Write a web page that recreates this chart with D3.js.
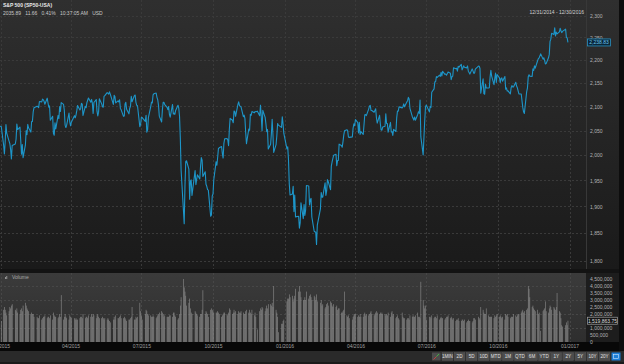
<!DOCTYPE html>
<html><head><meta charset="utf-8">
<script src="https://cdn.jsdelivr.net/npm/d3@7"></script>
<style>
html,body{margin:0;padding:0;background:#151515;overflow:hidden}
svg{display:block;font-family:"Liberation Sans",Arial,sans-serif}
</style>
</head><body>
<svg id="c" width="624" height="364"></svg>
<script>
// ---------------- DATA ----------------
const titleText = "S&P 500 (SP50-USA)";
const quoteText = "2035.89   11.66   0.41%   10:37:05 AM   USD";
const rangeText = "12/31/2014 - 12/30/2016";
const holidays = ["2015-01-01","2015-01-19","2015-02-16","2015-04-03","2015-05-25","2015-07-03","2015-09-07","2015-11-26","2015-12-25",
  "2016-01-01","2016-01-18","2016-02-15","2016-03-25","2016-05-30","2016-07-04","2016-09-05","2016-11-24","2016-12-26"];
const firstDay = "2014-12-31";
const firstClose = 2058.90;
const firstVolumeM = 1.3;
const closes2015 = [
 2058.20,2020.58,2002.61,2025.90,2062.14,2044.81,2028.26,2023.03,2011.27,1992.67,2019.42,2022.55,2032.12,2063.15,2051.82,2057.09,2029.55,2002.16,2021.25,1994.99,
 2020.85,2050.03,2041.51,2062.52,2055.47,2046.74,2068.59,2068.53,2088.48,2096.99,2100.34,2099.68,2097.45,2110.30,2109.66,2115.48,2113.86,2110.74,2104.50,
 2117.39,2107.78,2098.53,2101.04,2071.26,2079.43,2044.16,2040.24,2065.95,2053.40,2081.19,2074.28,2099.50,2089.27,2108.10,2104.42,2091.50,2061.05,2056.15,2061.02,2086.24,2067.89,
 2059.69,2066.96,2080.62,2076.33,2081.90,2091.18,2102.06,2092.43,2095.84,2106.63,2104.99,2081.18,2100.40,2097.29,2107.96,2112.93,2117.69,2108.92,2114.76,2106.85,2085.51,
 2108.29,2114.49,2089.46,2080.15,2088.00,2116.10,2105.33,2099.12,2098.48,2121.10,2122.73,2129.20,2127.83,2125.85,2130.82,2126.06,2104.20,2123.48,2120.79,2107.39,
 2111.73,2109.60,2114.07,2095.84,2092.83,2079.28,2080.15,2105.20,2108.86,2094.11,2084.43,2096.29,2100.44,2121.24,2109.99,2122.85,2124.20,2108.58,2102.31,2101.49,2057.64,2063.11,
 2077.42,2076.78,2068.76,2081.34,2046.68,2051.31,2076.62,2099.60,2108.95,2107.40,2124.29,2126.64,2128.28,2119.21,2114.15,2102.15,2079.65,2067.64,2093.25,2108.57,2108.63,2103.84,
 2098.04,2093.32,2099.84,2083.56,2077.57,2104.18,2084.07,2086.05,2083.39,2091.54,2102.44,2096.92,2079.61,2035.73,1970.89,1893.21,1867.61,1940.51,1987.66,1988.87,1972.18,
 1913.85,1948.86,1951.13,1921.22,1969.41,1942.04,1952.29,1961.05,1953.03,1978.09,1995.31,1990.20,1958.03,1966.97,1942.74,1938.76,1932.24,1931.34,1881.77,1884.09,1920.03,
 1923.82,1951.36,1987.05,1979.92,1995.83,2013.43,2014.89,2017.46,2003.69,1994.24,2023.86,2033.11,2033.66,2030.77,2018.94,2052.51,2075.15,2071.18,2065.89,2090.35,2089.41,2079.36,
 2104.05,2109.79,2102.31,2099.93,2099.20,2078.58,2081.72,2075.00,2045.97,2023.04,2053.19,2050.44,2083.58,2081.24,2089.17,2086.59,2089.14,2088.87,2090.11,2080.41,
 2102.63,2079.51,2049.62,2091.69,2077.07,2063.59,2047.62,2052.23,2012.37,2021.94,2043.41,2073.07,2041.89,2005.55,2021.15,2038.97,2064.29,2060.99,2056.50,2078.36,2063.36,2043.94
];
const closes2016 = [
 2012.66,2016.71,1990.26,1943.09,1922.03,1923.67,1938.68,1890.28,1921.84,1880.33,1881.33,1859.33,1868.99,1906.90,1877.08,1903.63,1882.95,1893.36,1940.24,
 1939.38,1903.03,1912.53,1915.45,1880.05,1853.44,1852.21,1851.86,1829.08,1864.78,1895.58,1926.82,1917.83,1917.78,1945.50,1921.27,1929.80,1951.70,1948.05,1932.23,
 1978.35,1986.45,1993.40,1999.99,2001.76,1979.26,1989.26,1989.57,2022.19,2019.64,2015.93,2027.22,2040.59,2049.58,2051.60,2049.80,2036.71,2035.94,2037.05,2055.01,2063.95,2059.74,
 2072.78,2066.13,2045.17,2066.66,2041.91,2047.60,2041.99,2061.72,2082.42,2082.78,2080.73,2094.34,2100.80,2102.40,2091.48,2091.58,2087.79,2091.70,2095.15,2075.81,2065.30,
 2081.43,2063.37,2051.12,2050.63,2057.14,2058.69,2084.39,2064.46,2064.11,2046.61,2066.66,2047.21,2047.63,2040.04,2052.32,2048.04,2076.06,2090.54,2090.10,2099.06,2096.95,
 2099.33,2105.26,2099.13,2109.41,2112.13,2119.12,2115.48,2096.07,2079.06,2075.32,2071.50,2077.99,2071.22,2083.25,2088.90,2085.45,2113.32,2037.41,2000.54,2036.09,2070.77,2098.86,
 2102.95,2088.55,2099.73,2097.90,2129.90,2137.16,2152.14,2152.43,2163.75,2161.74,2166.89,2163.78,2173.02,2165.17,2175.03,2168.48,2169.18,2166.58,2170.06,2173.60,
 2170.84,2157.03,2163.79,2164.25,2182.87,2180.89,2181.74,2175.49,2185.79,2184.05,2190.15,2178.15,2182.22,2187.02,2183.87,2182.64,2186.90,2175.44,2172.47,2169.04,2180.38,2176.12,2170.95,
 2170.86,2179.98,2186.48,2186.16,2181.30,2127.81,2159.04,2127.02,2125.77,2147.26,2139.16,2139.12,2139.76,2163.12,2177.18,2164.69,2146.10,2159.93,2171.37,2151.13,2168.27,
 2161.20,2150.49,2159.73,2160.77,2153.74,2163.66,2136.73,2139.18,2132.55,2132.98,2126.50,2139.60,2144.29,2141.34,2141.16,2151.33,2143.16,2139.43,2133.04,2126.41,2126.15,
 2111.72,2097.94,2088.66,2085.18,2131.52,2139.56,2163.26,2167.48,2164.45,2164.20,2180.39,2176.94,2187.12,2181.90,2198.18,2202.94,2204.72,2213.35,2201.72,2204.66,2198.81,
 2191.08,2191.95,2204.71,2212.23,2241.35,2246.19,2259.53,2256.96,2271.72,2253.28,2262.03,2258.07,2262.53,2270.76,2265.18,2260.96,2263.79,2268.88,2249.92,2249.26,2238.83
];
// volume in millions
const volumes2015M = [
 1.5,2.3,2.5,2.3,2.1,1.9,2.2,2.5,2.4,2.6,2.7,2.3,2.2,2.4,2.1,2.0,2.3,2.4,2.2,2.6,
 2.8,2.6,2.4,2.3,2.2,2.0,2.1,2.0,2.0,1.8,1.8,1.7,1.7,1.9,1.6,1.7,1.8,1.8,1.9,
 1.7,1.8,1.8,1.7,1.9,1.6,2.1,1.9,1.8,1.8,1.7,1.8,2.0,1.8,3.35,1.6,1.8,2.0,1.8,1.7,1.6,1.9,
 1.8,1.7,1.7,1.6,1.7,1.6,1.6,1.7,1.8,1.8,1.7,2.0,1.7,1.8,1.8,1.7,1.9,1.8,2.0,1.8,2.0,
 1.9,1.7,1.9,2.0,1.8,1.7,1.7,1.8,1.7,1.6,1.7,1.6,1.7,1.6,1.5,1.4,1.6,1.8,1.6,1.9,
 1.7,1.7,1.8,1.9,1.7,1.7,1.8,1.7,1.6,1.5,1.6,1.6,1.7,1.8,2.5,1.6,1.6,1.8,1.7,1.8,2.8,2.2,
 1.9,1.6,2.0,2.3,2.2,2.0,1.9,1.9,1.8,1.8,1.9,1.8,1.7,1.8,1.9,2.0,2.1,2.2,2.1,2.0,1.8,1.9,
 1.8,1.8,1.8,1.9,1.9,1.8,2.1,2.1,1.9,1.8,1.6,1.7,2.0,2.6,3.2,4.5,3.9,3.6,3.3,2.6,2.8,
 3.1,2.4,2.1,2.0,2.2,2.1,2.0,1.9,1.8,2.0,2.0,2.3,3.7,2.0,2.2,2.1,2.0,1.8,2.3,2.4,2.3,
 2.2,2.1,2.1,2.1,2.2,2.1,2.0,1.8,1.9,2.0,2.1,2.1,2.0,1.9,2.1,2.4,2.3,2.0,2.1,2.3,2.1,2.2,
 2.0,2.2,2.1,2.1,2.2,2.1,2.0,2.0,2.2,2.3,2.1,2.3,2.1,2.0,2.3,1.9,2.1,1.8,0.9,2.2,
 2.4,2.3,2.5,2.4,2.2,2.4,2.6,2.4,2.7,2.7,2.6,2.8,2.5,4.0,2.3,2.1,1.8,0.7,1.3,1.3,1.5,1.6
];
const volumes2016M = [
 2.9,3.1,3.1,3.4,3.2,3.3,2.9,3.1,3.3,3.8,3.6,4.0,3.6,3.2,3.0,3.0,3.2,3.0,3.6,
 3.1,3.3,3.4,3.2,3.0,3.3,3.2,3.0,3.4,2.9,2.8,3.0,2.6,2.7,2.4,2.5,2.7,2.8,2.6,2.9,
 2.8,2.6,2.5,2.7,2.5,2.6,2.3,2.4,2.4,2.1,2.1,2.2,2.3,3.6,1.9,1.8,1.9,1.7,1.6,1.8,1.9,2.0,
 2.0,1.8,1.9,1.8,2.0,1.8,1.8,2.0,2.1,1.9,2.0,1.9,2.0,2.1,2.2,2.0,1.9,2.0,2.1,2.2,2.1,
 2.0,2.1,2.0,2.1,2.0,2.0,1.9,2.0,1.9,2.1,1.8,2.1,2.2,1.9,2.0,1.7,1.8,1.9,1.7,1.6,2.1,
 1.8,1.7,1.7,1.6,1.7,1.7,1.6,1.9,1.8,1.9,1.8,1.8,1.9,2.1,1.8,1.8,1.7,4.3,3.0,2.6,2.4,2.6,
 1.6,1.8,1.8,1.7,1.9,1.7,1.8,1.8,1.7,1.9,1.6,1.7,1.8,1.7,1.7,1.6,1.7,1.8,1.8,1.9,
 1.7,1.8,1.7,1.6,1.7,1.5,1.6,1.6,1.7,1.5,1.5,1.6,1.6,1.5,1.6,1.4,1.5,1.6,1.5,1.5,1.4,1.5,1.7,
 1.7,1.6,1.8,1.7,1.6,2.5,2.3,2.1,2.0,2.0,2.4,1.9,1.8,1.8,1.8,1.8,1.7,1.9,1.8,1.9,2.0,
 1.8,1.9,1.8,1.7,1.8,1.6,2.0,1.9,2.0,1.8,1.7,1.8,1.8,1.8,2.0,1.9,1.8,1.9,2.0,2.0,2.1,
 2.2,2.3,2.1,2.2,2.3,2.4,4.0,3.8,3.2,2.5,2.6,2.4,2.3,2.2,2.3,2.0,2.1,0.8,2.2,2.3,2.4,
 2.9,2.2,2.1,2.4,2.6,2.5,2.3,2.5,2.4,2.3,2.5,3.5,2.2,2.1,1.7,1.2,1.1,1.2,1.4,1.2,1.51986375
];
const priceTicks = [1800,1850,1900,1950,2000,2050,2100,2150,2200,2250,2300];
// 1,500,000 sits behind the last-value tag in the reference
const volumeTicks = [0,500000,1000000,2000000,2500000,3000000,3500000,4000000,4500000];
const quarterTicks = ["2015-01-01","2015-04-01","2015-07-01","2015-10-01","2016-01-01","2016-04-01","2016-07-01","2016-10-01","2017-01-01"];
const rangeButtons = ["1MIN","2D","5D","10D","MTD","1M","QTD","6M","YTD","1Y","2Y","5Y","10Y","20Y"];

// ---------------- BUILD ----------------
const parse = d3.timeParse("%Y-%m-%d");
const fmtDay = d3.timeFormat("%Y-%m-%d");
const holidaySet = new Set(holidays);
const tradingDays = [parse(firstDay)].concat(
  d3.timeDay.range(parse("2015-01-01"), parse("2016-12-31"))
    .filter(d => d.getDay() !== 0 && d.getDay() !== 6 && !holidaySet.has(fmtDay(d))));
const closes = [firstClose, ...closes2015, ...closes2016];
const vols = [firstVolumeM, ...volumes2015M, ...volumes2016M];
const n = Math.min(tradingDays.length, closes.length, vols.length);
const data = d3.range(n).map(i => ({date: tradingDays[i], close: closes[i], volume: vols[i] * 1e6}));

const svg = d3.select("#c");
const PW = 586;
const mainTop = 0, mainBot = 269;
const volTop = 273, volBot = 342;

const defs = svg.append("defs");
const g1 = defs.append("linearGradient").attr("id","gMain").attr("x1",0).attr("y1",0).attr("x2",0).attr("y2",1);
g1.append("stop").attr("offset","0%").attr("stop-color","#2f2f2f");
g1.append("stop").attr("offset","100%").attr("stop-color","#1a1a1a");
const g2 = defs.append("linearGradient").attr("id","gVol").attr("x1",0).attr("y1",0).attr("x2",0).attr("y2",1);
g2.append("stop").attr("offset","0%").attr("stop-color","#3b3b3b");
g2.append("stop").attr("offset","100%").attr("stop-color","#2e2e2e");
defs.append("clipPath").attr("id","clipMain").append("rect").attr("x",0).attr("y",mainTop).attr("width",PW).attr("height",mainBot-mainTop);
defs.append("clipPath").attr("id","clipVol").append("rect").attr("x",0).attr("y",volTop).attr("width",PW).attr("height",volBot-volTop);

svg.append("rect").attr("width",624).attr("height",364).attr("fill","#131313");
svg.append("rect").attr("x",0).attr("y",mainTop).attr("width",619).attr("height",mainBot-mainTop).attr("fill","url(#gMain)");
svg.append("rect").attr("x",0).attr("y",volTop).attr("width",PW).attr("height",volBot-volTop).attr("fill","url(#gVol)");
svg.append("rect").attr("x",PW).attr("y",volTop).attr("width",619-PW).attr("height",volBot-volTop).attr("fill","#1d1d1d");
svg.append("rect").attr("x",0).attr("y",volBot).attr("width",619).attr("height",9).attr("fill","#080808");
svg.append("rect").attr("x",0).attr("y",351).attr("width",624).attr("height",13).attr("fill","#2a2a2a");
svg.append("rect").attr("x",0).attr("y",362).attr("width",624).attr("height",2).attr("fill","#1a1a1a");
svg.append("rect").attr("x",619).attr("y",0).attr("width",5).attr("height",351).attr("fill","#0d0d0d");
svg.append("line").attr("x1",PW+0.5).attr("x2",PW+0.5).attr("y1",0).attr("y2",mainBot).attr("stroke","#383838");

const x = d3.scaleTime().domain([parse("2015-01-01"), parse("2017-01-01")]).range([0.5, 569.5]);
const y = d3.scaleLog().domain([1800, 2300]).range([260.5, 15.5]);
const yv = d3.scaleLinear().domain([0, 4500000]).range([volBot, 279]);
const qDates = quarterTicks.map(parse);

const grid = svg.append("g").attr("stroke","#3a3a3a").attr("stroke-width",1).attr("stroke-dasharray","2,2");
grid.selectAll(".hg").data(priceTicks).join("line")
  .attr("x1",0).attr("x2",PW).attr("y1",d=>Math.round(y(d))+0.5).attr("y2",d=>Math.round(y(d))+0.5);
grid.selectAll(".vg").data(qDates).join("line")
  .attr("x1",d=>Math.round(x(d))+0.5).attr("x2",d=>Math.round(x(d))+0.5).attr("y1",mainTop).attr("y2",mainBot);
const gridV = svg.append("g").attr("stroke","#474747").attr("stroke-width",1).attr("stroke-dasharray","2,2");
gridV.selectAll("line.h").data(volumeTicks.filter(v=>v>0 && v%1000000===0)).join("line").attr("class","h")
  .attr("x1",0).attr("x2",PW).attr("y1",d=>Math.round(yv(d))+0.5).attr("y2",d=>Math.round(yv(d))+0.5);
gridV.selectAll("line.v").data(qDates).join("line").attr("class","v")
  .attr("x1",d=>Math.round(x(d))+0.5).attr("x2",d=>Math.round(x(d))+0.5).attr("y1",volTop).attr("y2",volBot);

const line = d3.line().x(d=>x(d.date)).y(d=>y(d.close));
svg.append("path").datum(data).attr("clip-path","url(#clipMain)")
  .attr("d",line).attr("fill","none").attr("stroke","#1d95c8").attr("stroke-width",1.1).attr("stroke-linejoin","round");

svg.append("g").attr("clip-path","url(#clipVol)").selectAll("rect").data(data).join("rect")
  .attr("x",d=>x(d.date)-0.3).attr("width",0.62)
  .attr("y",d=>yv(d.volume)).attr("height",d=>volBot-yv(d.volume))
  .attr("fill","#8c8c8c");

const ya = d3.axisRight(y).tickValues(priceTicks).tickFormat(d3.format(",")).tickSize(0).tickPadding(0);
const yag = svg.append("g").attr("transform",`translate(${PW+4},0)`).call(ya);
yag.select(".domain").remove();
yag.selectAll("text").attr("fill","#b4b4b4").attr("font-size","5px").attr("font-family","Liberation Sans, Arial, sans-serif");

const va = d3.axisRight(yv).tickValues(volumeTicks).tickFormat(d3.format(",")).tickSize(0).tickPadding(0);
const vag = svg.append("g").attr("transform",`translate(${PW+4},0)`).call(va);
vag.select(".domain").remove();
vag.selectAll("text").attr("fill","#b4b4b4").attr("font-size","5px").attr("font-family","Liberation Sans, Arial, sans-serif");

const xa = d3.axisBottom(x).tickValues(qDates).tickFormat(d3.timeFormat("%m/%Y")).tickSize(0).tickPadding(0);
const xag = svg.append("g").attr("transform",`translate(0,${volBot+2.5})`).call(xa);
xag.select(".domain").remove();
xag.selectAll("text").attr("fill","#a0a0a0").attr("font-size","5px").attr("font-family","Liberation Sans, Arial, sans-serif");

const last = data[data.length-1];
const ly = y(last.close);
svg.append("rect").attr("x",PW+1.5).attr("y",ly-3.5).attr("width",23).attr("height",7)
  .attr("fill","#0a2637").attr("stroke","#2a90c0").attr("stroke-width",0.8);
svg.append("text").attr("x",PW+13).attr("y",ly+1.8).attr("text-anchor","middle")
  .attr("font-size","5px").attr("fill","#6cc8f0").text(d3.format(",.2f")(last.close));
const lvy = yv(last.volume);
svg.append("rect").attr("x",PW+1.5).attr("y",lvy-3.5).attr("width",30).attr("height",7)
  .attr("fill","#161616").attr("stroke","#a0a0a0").attr("stroke-width",0.7);
svg.append("text").attr("x",PW+16.5).attr("y",lvy+1.8).attr("text-anchor","middle")
  .attr("font-size","5px").attr("fill","#dddddd").text(d3.format(",.2f")(last.volume));

svg.append("text").attr("x",3).attr("y",7).attr("font-size","5px").attr("font-weight","bold").attr("fill","#e8e8e8").text(titleText);
svg.append("text").attr("x",3).attr("y",14.5).attr("font-size","5px").attr("fill","#c8c8c8").style("white-space","pre").text(quoteText);
svg.append("text").attr("x",584).attr("y",13.5).attr("text-anchor","end").attr("font-size","5px").attr("fill","#d0d0d0").text(rangeText);

const vl = svg.append("g").attr("transform",`translate(5,${volTop+2})`);
vl.append("rect").attr("x",0).attr("y",2).attr("width",0.8).attr("height",2).attr("fill","#aaa");
vl.append("rect").attr("x",1.4).attr("y",1).attr("width",0.8).attr("height",3).attr("fill","#aaa");
svg.append("text").attr("x",12).attr("y",volTop+6).attr("font-size","5px").attr("fill","#a8a8a8").text("Volume");

const bx = d3.scaleBand().domain(rangeButtons).range([442, 610]).paddingInner(0.1);
const tb = svg.append("g");
tb.selectAll("rect").data(rangeButtons).join("rect")
  .attr("x",d=>bx(d)).attr("y",352.5).attr("width",bx.bandwidth()).attr("height",8)
  .attr("fill","#4d4d4d").attr("stroke","#5a5a5a").attr("stroke-width",0.4);
tb.selectAll("text").data(rangeButtons).join("text")
  .attr("x",d=>bx(d)+bx.bandwidth()/2).attr("y",358.3).attr("text-anchor","middle")
  .attr("font-size","4.6px").attr("fill","#e0e0e0").text(d=>d);
tb.append("rect").attr("x",432).attr("y",352.5).attr("width",8.5).attr("height",8).attr("fill","#4d4d4d");
tb.append("line").attr("x1",433.5).attr("y1",359.5).attr("x2",436.5).attr("y2",356.5).attr("stroke","#d04040").attr("stroke-width",0.9);
tb.append("line").attr("x1",436.5).attr("y1",356.5).attr("x2",439).attr("y2",354).attr("stroke","#40c040").attr("stroke-width",0.9);
tb.append("rect").attr("x",611.5).attr("y",352.5).attr("width",9).attr("height",8).attr("fill","#1f7fd6");
tb.append("rect").attr("x",613.5).attr("y",354.5).attr("width",5).attr("height",4).attr("fill","none").attr("stroke","#cfe6ff").attr("stroke-width",0.6);
</script>
</body></html>
